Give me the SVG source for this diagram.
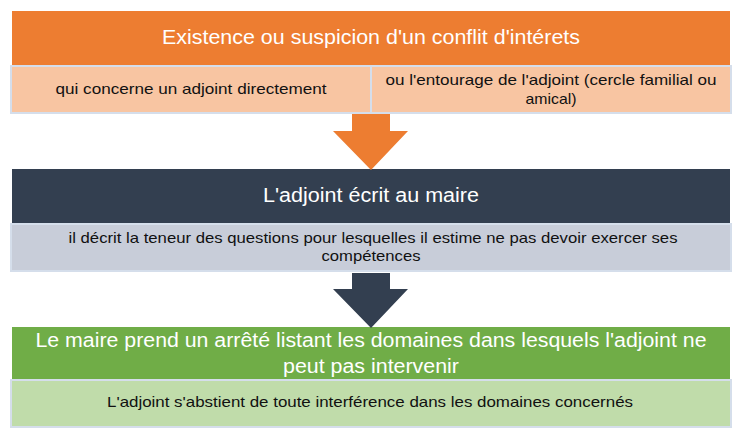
<svg xmlns="http://www.w3.org/2000/svg" width="741" height="440" viewBox="0 0 741 440">
<style>
.hd{font-family:"Liberation Sans","Open Sans",sans-serif;font-size:19.5px;fill:#ffffff;text-anchor:middle}
.sb{font-family:"Liberation Sans","Open Sans",sans-serif;font-size:14.5px;fill:#111111;text-anchor:middle}
.cell{stroke:#D5DEEB;stroke-width:2}
</style>
<rect width="741" height="440" fill="#ffffff"/>
<g id="step1">
<rect x="12" y="11" width="718" height="54" fill="#ED7D31"/>
<text class="hd" x="371" y="44" textLength="418" lengthAdjust="spacingAndGlyphs">Existence ou suspicion d'un conflit d'intérets</text>
</g>
<g id="step1-left">
<rect class="cell" x="11" y="66" width="360" height="47" fill="#F8C5A2"/>
<text class="sb" x="191" y="94" textLength="271" lengthAdjust="spacingAndGlyphs">qui concerne un adjoint directement</text>
</g>
<g id="step1-right">
<rect class="cell" x="371" y="66" width="360" height="47" fill="#F8C5A2"/>
<text class="sb" x="551" y="85" textLength="331" lengthAdjust="spacingAndGlyphs">ou l'entourage de l'adjoint (cercle familial ou</text>
<text class="sb" x="551" y="104" textLength="51" lengthAdjust="spacingAndGlyphs">amical)</text>
</g>
<g id="step2">
<rect x="12" y="169" width="718" height="54" fill="#333F50"/>
<text class="hd" x="371" y="202" textLength="216" lengthAdjust="spacingAndGlyphs">L'adjoint écrit au maire</text>
</g>
<g id="step2-detail">
<rect class="cell" x="11" y="224" width="720" height="47" fill="#C8CDD9"/>
<text class="sb" x="373" y="243" textLength="609" lengthAdjust="spacingAndGlyphs">il décrit la teneur des questions pour lesquelles il estime ne pas devoir exercer ses</text>
<text class="sb" x="371" y="261" textLength="99" lengthAdjust="spacingAndGlyphs">compétences</text>
</g>
<g id="step3">
<rect x="12" y="327" width="718" height="52" fill="#70AD47"/>
<text class="hd" x="371" y="347" textLength="671" lengthAdjust="spacingAndGlyphs">Le maire prend un arrêté listant les domaines dans lesquels l'adjoint ne</text>
<text class="hd" x="371" y="373" textLength="176" lengthAdjust="spacingAndGlyphs">peut pas intervenir</text>
</g>
<g id="step3-detail">
<rect class="cell" x="11" y="380" width="720" height="47" fill="#C0DCAA"/>
<text class="sb" x="370" y="407" textLength="526" lengthAdjust="spacingAndGlyphs">L'adjoint s'abstient de toute interférence dans les domaines concernés</text>
</g>
<g id="connectors">
<polygon points="352,114 390,114 390,131 408,131 371,170 333,131 352,131" fill="#ED7D31"/>
<polygon points="352,273 390,273 390,289 408,289 371,328 333,289 352,289" fill="#333F50"/>
</g>
</svg>
